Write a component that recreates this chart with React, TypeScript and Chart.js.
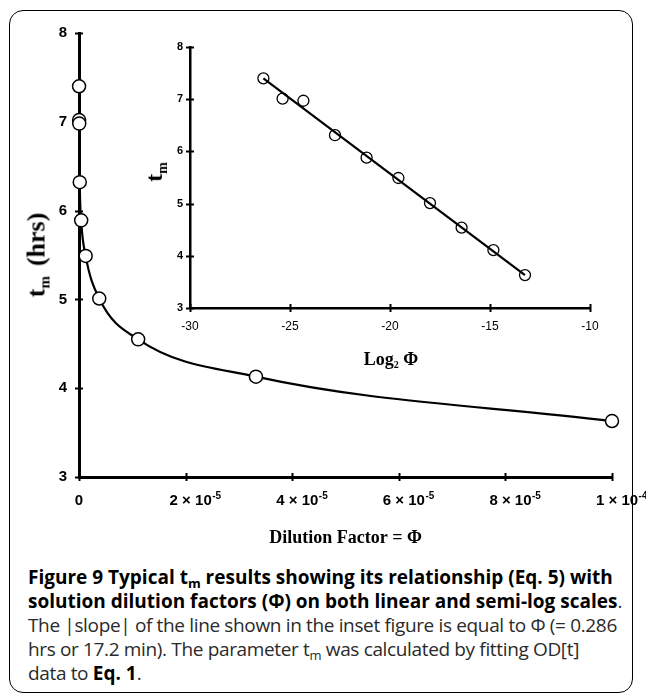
import React, { useEffect, useRef } from 'react';
import { Chart, registerables } from 'chart.js';

Chart.register(...registerables);

// Main chart (linear scale): dilution factor Φ vs t_m
const dilution = [1.2e-8, 2.3e-8, 4.6e-8, 1.4e-7, 4.1e-7, 1.25e-6, 3.8e-6, 1.11e-5, 3.32e-5, 1.0e-4];
const tmMain = [7.40, 7.02, 6.98, 6.32, 5.89, 5.49, 5.01, 4.55, 4.13, 3.63];
const mainXTicks = [0, 2e-5, 4e-5, 6e-5, 8e-5, 1e-4];
const mainXMantissa = ['0', '2 × 10', '4 × 10', '6 × 10', '8 × 10', '1 × 10'];
const mainXExponent = ['', '-5', '-5', '-5', '-5', '-4'];
const mainYTicks = [3, 4, 5, 6, 7, 8];

// Inset (semi-log): log2 Φ vs t_m
const log2Phi = [-26.33, -25.37, -24.33, -22.75, -21.17, -19.58, -18.0, -16.42, -14.83, -13.25];
const tmInset = [7.40, 7.01, 6.97, 6.31, 5.88, 5.49, 5.01, 4.54, 4.11, 3.63];
const fitX = [-26.33, -13.25];
const fitY = [7.40, 3.63];
const insetXTicks = [-30, -25, -20, -15, -10];
const insetYTicks = [3, 4, 5, 6, 7, 8];

const crossTicks = {
  id: 'crossTicks',
  beforeDatasetsDraw(chart: any, _args: any, opts: any) {
    const { ctx, chartArea, scales } = chart;
    const len = opts.len ?? 4;
    ctx.save();
    ctx.strokeStyle = '#000';
    ctx.lineWidth = opts.lw ?? 2;
    scales.x.ticks.forEach((t: any) => {
      const px = Math.round(scales.x.getPixelForValue(t.value)) + 0.5;
      ctx.beginPath();
      ctx.moveTo(px, chartArea.bottom - len);
      ctx.lineTo(px, chartArea.bottom + len);
      ctx.stroke();
    });
    scales.y.ticks.forEach((t: any) => {
      const py = Math.round(scales.y.getPixelForValue(t.value)) + 0.5;
      ctx.beginPath();
      ctx.moveTo(chartArea.left - len, py);
      ctx.lineTo(chartArea.left + len, py);
      ctx.stroke();
    });
    ctx.restore();
  },
};

// x tick labels of the main chart, written as mantissa with a raised exponent
const sciLabels = {
  id: 'sciLabels',
  afterDraw(chart: any) {
    const { ctx, chartArea, scales } = chart;
    const base = chartArea.bottom + 28;
    ctx.save();
    ctx.fillStyle = '#000';
    ctx.textBaseline = 'alphabetic';
    mainXTicks.forEach((v, i) => {
      const px = scales.x.getPixelForValue(v);
      ctx.font = 'bold 15px "Liberation Sans"';
      if (!mainXExponent[i]) {
        ctx.textAlign = 'center';
        ctx.fillText(mainXMantissa[i], px, base);
        return;
      }
      ctx.textAlign = 'left';
      const x0 = px - 16;
      ctx.fillText(mainXMantissa[i], x0, base);
      const w = ctx.measureText(mainXMantissa[i]).width;
      ctx.font = 'bold 10px "Liberation Sans"';
      ctx.fillText(mainXExponent[i], x0 + w + 0.5, base - 6);
    });
    ctx.restore();
  },
};

export default function App() {
  const mainRef = useRef<HTMLCanvasElement>(null);
  const insetRef = useRef<HTMLCanvasElement>(null);

  useEffect(() => {
    const main = new Chart(mainRef.current!, {
      type: 'line',
      data: {
        datasets: [
          {
            data: dilution.map((x, i) => ({ x, y: tmMain[i] })),
            borderColor: '#000',
            borderWidth: 2.2,
            cubicInterpolationMode: 'monotone',
            pointRadius: 6.5,
            pointBackgroundColor: '#fff',
            pointBorderColor: '#000',
            pointBorderWidth: 1.5,
            clip: false,
          } as any,
        ],
      },
      options: {
        animation: false,
        responsive: false,
        devicePixelRatio: 1,
        layout: { padding: { left: 0, top: 33, right: 34, bottom: 0 } },
        plugins: { legend: { display: false }, tooltip: { enabled: false }, crossTicks: { len: 4, lw: 2 } } as any,
        scales: {
          x: {
            type: 'linear',
            min: 0,
            max: 1e-4,
            afterBuildTicks: (s: any) => { s.ticks = mainXTicks.map((v) => ({ value: v })); },
            afterFit: (s: any) => { s.height = 83; },
            grid: { display: false, drawTicks: false },
            border: { display: true, color: '#000', width: 3 },
            ticks: { display: false },
            title: {
              display: true,
              text: 'Dilution Factor = Φ',
              color: '#000',
              font: { family: 'Liberation Serif', weight: 'bold', size: 18 },
              padding: { top: 0, bottom: 11 },
            },
          },
          y: {
            type: 'linear',
            min: 3,
            max: 8,
            afterBuildTicks: (s: any) => { s.ticks = mainYTicks.map((v) => ({ value: v })); },
            afterFit: (s: any) => { s.width = 79; },
            grid: { display: false, drawTicks: false },
            border: { display: true, color: '#000', width: 3 },
            ticks: {
              padding: 12,
              color: '#000',
              font: { family: 'Liberation Sans', weight: 'bold', size: 15 },
            },
          },
        },
      },
      plugins: [crossTicks as any, sciLabels as any],
    });

    const inset = new Chart(insetRef.current!, {
      type: 'scatter',
      data: {
        datasets: [
          {
            type: 'line',
            data: fitX.map((x, i) => ({ x, y: fitY[i] })),
            borderColor: '#000',
            borderWidth: 2.2,
            pointRadius: 0,
            clip: false,
          } as any,
          {
            data: log2Phi.map((x, i) => ({ x, y: tmInset[i] })),
            pointRadius: 5.5,
            pointBackgroundColor: '#fff',
            pointBorderColor: '#000',
            pointBorderWidth: 1.3,
            clip: false,
          } as any,
        ],
      },
      options: {
        animation: false,
        responsive: false,
        devicePixelRatio: 1,
        layout: { padding: { left: 0, top: 27, right: 30, bottom: 0 } },
        plugins: { legend: { display: false }, tooltip: { enabled: false }, crossTicks: { len: 4, lw: 2 } } as any,
        scales: {
          x: {
            type: 'linear',
            min: -30,
            max: -10,
            afterBuildTicks: (s: any) => { s.ticks = insetXTicks.map((v) => ({ value: v })); },
            afterFit: (s: any) => { s.height = 42; },
            grid: { display: false, drawTicks: false },
            border: { display: true, color: '#000', width: 2.5 },
            ticks: {
              padding: 11,
              color: '#000',
              font: { family: 'Liberation Sans', size: 12 },
              maxRotation: 0,
              autoSkip: false,
            },
          },
          y: {
            type: 'linear',
            min: 3,
            max: 8,
            afterBuildTicks: (s: any) => { s.ticks = insetYTicks.map((v) => ({ value: v })); },
            afterFit: (s: any) => { s.width = 50; },
            grid: { display: false, drawTicks: false },
            border: { display: true, color: '#000', width: 2.5 },
            ticks: {
              padding: 7,
              color: '#000',
              font: { family: 'Liberation Sans', weight: 'bold', size: 11 },
            },
          },
        },
      },
      plugins: [crossTicks as any],
    });

    return () => {
      main.destroy();
      inset.destroy();
    };
  }, []);

  const serifBold: React.CSSProperties = {
    fontFamily: '"Liberation Serif", serif',
    fontWeight: 'bold',
    color: '#000',
    whiteSpace: 'nowrap',
    position: 'absolute',
    lineHeight: 1,
  };
  const capSub: React.CSSProperties = { fontSize: 13, verticalAlign: '-4px', lineHeight: 0 };
  const regular: React.CSSProperties = { letterSpacing: '-0.35px', color: '#2a2a2a' };

  return (
    <div style={{ position: 'absolute', left: 0, top: 0, width: 646, height: 696, background: '#fff', overflow: 'hidden' }}>
      <canvas ref={mainRef} width={646} height={560} style={{ position: 'absolute', left: 0, top: 0, width: 646, height: 560 }} />
      <canvas ref={insetRef} width={480} height={330} style={{ position: 'absolute', left: 140, top: 20, width: 480, height: 330 }} />

      <div style={{ ...serifBold, fontSize: 26, left: 38, top: 255, transform: 'translate(-50%, -50%) rotate(-90deg)' }}>
        t<span style={{ fontSize: 15, verticalAlign: '-5px' }}>m</span>
        <span style={{ marginLeft: 10 }}>(hrs)</span>
      </div>

      <div style={{ ...serifBold, fontSize: 24, left: 156, top: 172, transform: 'translate(-50%, -50%) rotate(-90deg)' }}>
        t<span style={{ fontSize: 14, verticalAlign: '-5px' }}>m</span>
      </div>

      <div style={{ ...serifBold, fontSize: 18, left: 391, top: 360, transform: 'translate(-50%, -50%)' }}>
        Log<span style={{ fontSize: 10, verticalAlign: '-3px' }}>2</span> Φ
      </div>

      <div
        style={{
          position: 'absolute',
          left: 28,
          top: 565,
          width: 610,
          fontFamily: '"Open Sans", sans-serif',
          fontSize: 19,
          lineHeight: '24px',
          color: '#000',
          whiteSpace: 'nowrap',
        }}
      >
        <b>Figure 9 Typical t<span style={capSub}>m</span> results showing its relationship (Eq. 5) with</b>
        <br />
        <b>solution dilution factors (Φ) on both linear and semi-log scales</b><span style={regular}>.</span>
        <br />
        <span style={regular}>The |slope| of the line shown in the inset figure is equal to Φ (= 0.286</span>
        <br />
        <span style={regular}>
          hrs or 17.2 min). The parameter t<span style={capSub}>m</span> was calculated by fitting OD[t]
        </span>
        <br />
        <span style={regular}>data to </span>
        <b>Eq. 1</b>
        <span style={regular}>.</span>
      </div>

      <div
        style={{
          position: 'absolute',
          left: 9,
          top: 10,
          width: 624,
          height: 683,
          boxSizing: 'border-box',
          border: '1.5px solid #000',
          borderRadius: 14,
          pointerEvents: 'none',
        }}
      />
    </div>
  );
}
